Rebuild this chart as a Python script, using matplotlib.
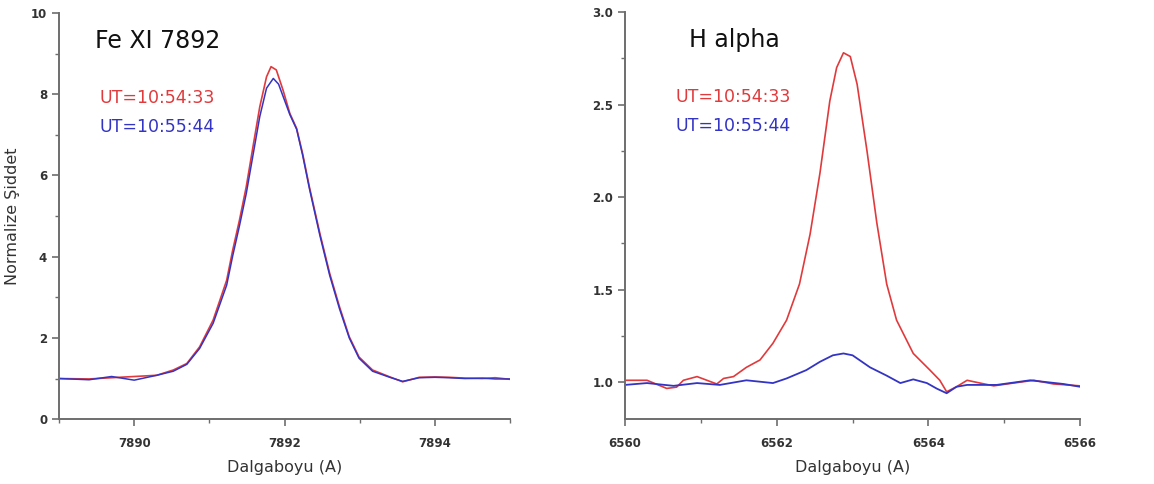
import numpy as np
import matplotlib
matplotlib.use("Agg")
import matplotlib.pyplot as plt
from matplotlib.ticker import MultipleLocator, FormatStrFormatter

#-------data-------
# Fe XI 7892
fe_wl_red = [7889.0, 7889.4, 7889.8, 7890.0, 7890.3, 7890.52, 7890.70, 7890.87, 7891.05,
             7891.23, 7891.31, 7891.40, 7891.49, 7891.58, 7891.67, 7891.76, 7891.82,
             7891.89, 7891.98, 7892.07, 7892.16, 7892.24, 7892.33, 7892.47, 7892.60,
             7892.73, 7892.86, 7892.99, 7893.17, 7893.40, 7893.57, 7893.79, 7894.0,
             7894.19, 7894.4, 7894.63, 7894.8, 7895.0]
fe_red = [1.0, 0.99, 1.03, 1.05, 1.08, 1.21, 1.37, 1.78, 2.44,
          3.42, 4.16, 4.90, 5.72, 6.71, 7.69, 8.43, 8.68,
          8.60, 8.10, 7.53, 7.16, 6.54, 5.72, 4.57, 3.59,
          2.77, 2.03, 1.53, 1.21, 1.04, 0.92, 1.03, 1.04,
          1.03, 1.01, 1.0, 1.02, 0.98]
fe_wl_blue = [7889.0, 7889.4, 7889.7, 7890.0, 7890.3, 7890.52, 7890.70, 7890.87, 7891.05,
              7891.23, 7891.31, 7891.40, 7891.49, 7891.58, 7891.67, 7891.76, 7891.85,
              7891.92, 7891.98, 7892.07, 7892.16, 7892.24, 7892.33, 7892.47, 7892.60,
              7892.73, 7892.86, 7892.99, 7893.17, 7893.40, 7893.57, 7893.79, 7894.0,
              7894.19, 7894.4, 7894.63, 7894.8, 7895.0]
fe_blue = [1.0, 0.97, 1.05, 0.96, 1.08, 1.18, 1.35, 1.74, 2.36,
           3.30, 4.02, 4.76, 5.55, 6.50, 7.45, 8.15, 8.39,
           8.25, 7.95, 7.50, 7.14, 6.50, 5.68, 4.52, 3.54,
           2.72, 2.00, 1.50, 1.18, 1.03, 0.93, 1.02, 1.03,
           1.02, 1.0, 1.01, 0.99, 0.99]

# H alpha
ha_wl_red = [6560.0, 6560.29, 6560.55, 6560.68, 6560.77, 6560.95, 6561.08, 6561.21, 6561.30,
             6561.43, 6561.60, 6561.78, 6561.95, 6562.13, 6562.30, 6562.44, 6562.57,
             6562.70, 6562.79, 6562.88, 6562.97, 6563.06, 6563.19, 6563.32, 6563.45,
             6563.58, 6563.80, 6564.02, 6564.15, 6564.24, 6564.37, 6564.51, 6564.68,
             6564.86, 6565.12, 6565.39, 6565.65, 6566.0]
ha_red = [1.01, 1.01, 0.966, 0.973, 1.01, 1.03, 1.01, 0.99, 1.02,
          1.03, 1.08, 1.12, 1.21, 1.335, 1.53, 1.80, 2.13,
          2.52, 2.70, 2.78, 2.76, 2.61, 2.25, 1.86, 1.53,
          1.335, 1.155, 1.065, 1.01, 0.948, 0.975, 1.01, 0.995,
          0.98, 0.995, 1.01, 0.99, 0.98]
ha_wl_blue = [6560.0, 6560.29, 6560.64, 6560.95, 6561.25, 6561.60, 6561.95, 6562.13,
              6562.39, 6562.57, 6562.74, 6562.88, 6563.00, 6563.23, 6563.45, 6563.63,
              6563.80, 6563.98, 6564.11, 6564.24, 6564.37, 6564.51, 6564.90, 6565.34,
              6565.78, 6566.0]
ha_blue = [0.985, 0.995, 0.98, 0.995, 0.985, 1.01, 0.995, 1.02,
           1.065, 1.11, 1.145, 1.155, 1.145, 1.08, 1.035, 0.995,
           1.015, 0.995, 0.965, 0.94, 0.975, 0.985, 0.985, 1.01,
           0.99, 0.975]

time_labels = ["UT=10:54:33", "UT=10:55:44"]
RED = "#e03a3c"
BLUE = "#3434c4"

#-------graph-------
plt.rcParams['font.family'] = ['DejaVu Sans']
fig = plt.figure(figsize=(11.54, 4.84), dpi=100)
ax1 = fig.add_axes([0.0511, 0.134, 0.391, 0.839])
ax2 = fig.add_axes([0.5416, 0.134, 0.3944, 0.841])


def style_axis(ax):
    for s in ["top", "right"]:
        ax.spines[s].set_visible(False)
    for s in ["left", "bottom"]:
        ax.spines[s].set_color("#6e6e6e")
        ax.spines[s].set_linewidth(1.4)
    ax.tick_params(which="major", length=5, width=1.2, color="#6e6e6e",
                   labelsize=8.5, labelcolor="#333333")
    ax.tick_params(which="minor", length=3, width=1.0, color="#6e6e6e")
    ax.tick_params(axis="x", which="major", pad=8)
    for lab in ax.get_xticklabels() + ax.get_yticklabels():
        lab.set_fontweight("bold")
    ax.set_xlabel("Dalgaboyu (A)", fontsize=11.5, color="#333333", labelpad=7)


# Fe XI
ax1.plot(fe_wl_red, fe_red, color=RED, lw=1.2)
ax1.plot(fe_wl_blue, fe_blue, color=BLUE, lw=1.1)
ax1.set_xlim(7889, 7895)
ax1.set_ylim(0, 10)
ax1.xaxis.set_major_locator(MultipleLocator(2))
ax1.xaxis.set_minor_locator(MultipleLocator(1))
ax1.yaxis.set_major_locator(MultipleLocator(2))
ax1.yaxis.set_minor_locator(MultipleLocator(1))
ax1.set_xticks([7890, 7892, 7894])
style_axis(ax1)
ax1.set_ylabel("Normalize Şiddet", fontsize=11.5, color="#333333", labelpad=8)
ax1.text(0.08, 0.915, "Fe XI 7892", transform=ax1.transAxes, fontsize=17, color="#111111")
ax1.text(0.09, 0.778, time_labels[0], transform=ax1.transAxes, fontsize=12.5, color=RED)
ax1.text(0.09, 0.707, time_labels[1], transform=ax1.transAxes, fontsize=12.5, color=BLUE)

# H alpha
ax2.plot(ha_wl_red, ha_red, color=RED, lw=1.2)
ax2.plot(ha_wl_blue, ha_blue, color=BLUE, lw=1.3)
ax2.set_xlim(6560, 6566)
ax2.set_ylim(0.8, 3.0)
ax2.xaxis.set_major_locator(MultipleLocator(2))
ax2.xaxis.set_minor_locator(MultipleLocator(1))
ax2.yaxis.set_major_locator(MultipleLocator(0.5))
ax2.yaxis.set_minor_locator(MultipleLocator(0.25))
ax2.yaxis.set_major_formatter(FormatStrFormatter("%.1f"))
style_axis(ax2)
ax2.text(0.14, 0.915, "H alpha", transform=ax2.transAxes, fontsize=17, color="#111111")
ax2.text(0.11, 0.778, time_labels[0], transform=ax2.transAxes, fontsize=12.5, color=RED)
ax2.text(0.11, 0.707, time_labels[1], transform=ax2.transAxes, fontsize=12.5, color=BLUE)

fig.savefig("out.png", dpi=100)
